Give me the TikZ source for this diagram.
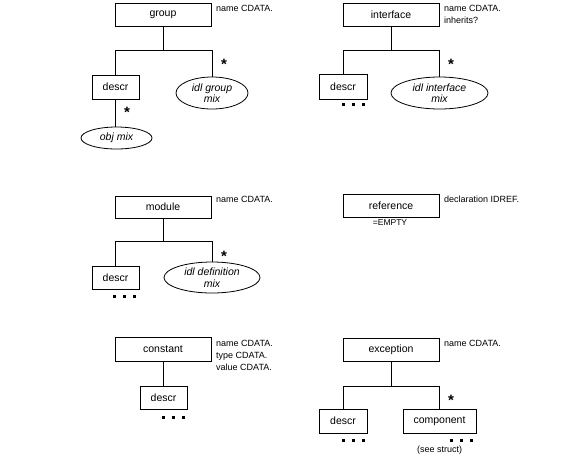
\documentclass[tikz,border=0pt]{standalone}
\usepackage{fontspec}
\setmainfont{Liberation Sans}
\usetikzlibrary{shapes.geometric}
\begin{document}
\begin{tikzpicture}[x=1pt,y=-1pt,
  elem/.style={draw,line width=0.8pt,rectangle,inner sep=0pt,font=\fontsize{10.5}{12}\selectfont},
  mixell/.style={draw,line width=0.8pt,ellipse,inner sep=0pt,align=center,font=\fontsize{10.5}{11.5}\selectfont\itshape},
  attr/.style={anchor=west,inner sep=0pt,align=left,font=\fontsize{9}{12}\selectfont},
  rep/.style={inner sep=0pt,font=\fontsize{15}{15}\selectfont\bfseries},
  conn/.style={line width=0.8pt}]
\useasboundingbox (0,0) rectangle (580,459);
% ---------- group
\node[elem,minimum width=96,minimum height=23] (group) at (163,14.5) {group};
\node[elem,minimum width=47,minimum height=24] (d1) at (115.5,87) {descr};
\node[mixell,minimum width=72,minimum height=32] (idl1) at (212,93) {idl group\\mix};
\node[mixell,minimum width=71,minimum height=22] (obj) at (116.5,138) {obj mix};
\node[attr] (a1) at (216,8.5) {name CDATA.};
\coordinate (j1) at (163,50);
\draw[conn] (group.south) -- (j1);
\draw[conn] (d1.north) -- (d1.north |- j1) -- (idl1.north |- j1) -- (idl1.north);
\draw[conn] (d1.south) -- (obj.north -| d1.south);
\node[rep] (s1) at (224,64) {*};
\node[rep] (s2) at (127,112) {*};
% ---------- interface
\node[elem,minimum width=96,minimum height=23] (interface) at (391,14.5) {interface};
\node[elem,minimum width=48,minimum height=25] (d2) at (343,86.5) {descr};
\node[mixell,minimum width=97,minimum height=32] (idl2) at (439.5,93) {idl interface\\mix};
\node[attr] (a2) at (444,14.5) {name CDATA.\\inherits?};
\coordinate (j2) at (391,50);
\draw[conn] (interface.south) -- (j2);
\draw[conn] (d2.north) -- (d2.north |- j2) -- (idl2.north |- j2) -- (idl2.north);
\node[rep] (s3) at (451,64) {*};
% ---------- module
\node[elem,minimum width=96,minimum height=22] (module) at (163,207) {module};
\node[elem,minimum width=47,minimum height=23] (d3) at (115.5,277.5) {descr};
\node[mixell,minimum width=96,minimum height=31] (idl3) at (212,277.5) {idl definition\\mix};
\node[attr] (a3) at (216,199) {name CDATA.};
\coordinate (j3) at (163,241);
\draw[conn] (module.south) -- (j3);
\draw[conn] (d3.north) -- (d3.north |- j3) -- (idl3.north |- j3) -- (idl3.north);
\node[rep] (s4) at (224,256) {*};
% ---------- reference
\node[elem,minimum width=96,minimum height=23] (reference) at (391,205.5) {reference};
\node[inner sep=0pt,font=\fontsize{8.5}{9}\selectfont] (empty) at (390,223) {=EMPTY};
\node[attr] (a4) at (444,199) {declaration IDREF.};
% ---------- constant
\node[elem,minimum width=96,minimum height=24] (constant) at (163,349) {constant};
\node[elem,minimum width=47,minimum height=23] (d4) at (163.5,397.5) {descr};
\node[attr] (a5) at (216,355) {name CDATA.\\type CDATA.\\value CDATA.};
\draw[conn] (constant.south) -- (d4.north -| constant.south);
% ---------- exception
\node[elem,minimum width=96,minimum height=23] (exception) at (391,349.5) {exception};
\node[elem,minimum width=48,minimum height=24] (d5) at (343,421) {descr};
\node[elem,minimum width=73,minimum height=24] (component) at (439.5,421) {component};
\node[attr] (a6) at (444,343) {name CDATA.};
\node[inner sep=0pt,font=\fontsize{9}{10}\selectfont] (see) at (439.5,450) {(see struct)};
\coordinate (j6) at (391,386);
\draw[conn] (exception.south) -- (j6);
\draw[conn] (d5.north) -- (d5.north |- j6) -- (component.north |- j6) -- (component.north);
\node[rep] (s5) at (451,400) {*};
% ---------- ellipsis dots
\foreach \x/\y in {342/104, 113/296, 162/417, 342/440, 450/440}{
  \foreach \k in {0,10,20}{\fill (\x+\k,\y-1.5) rectangle ++(3,3);}
}
\end{tikzpicture}
\end{document}
